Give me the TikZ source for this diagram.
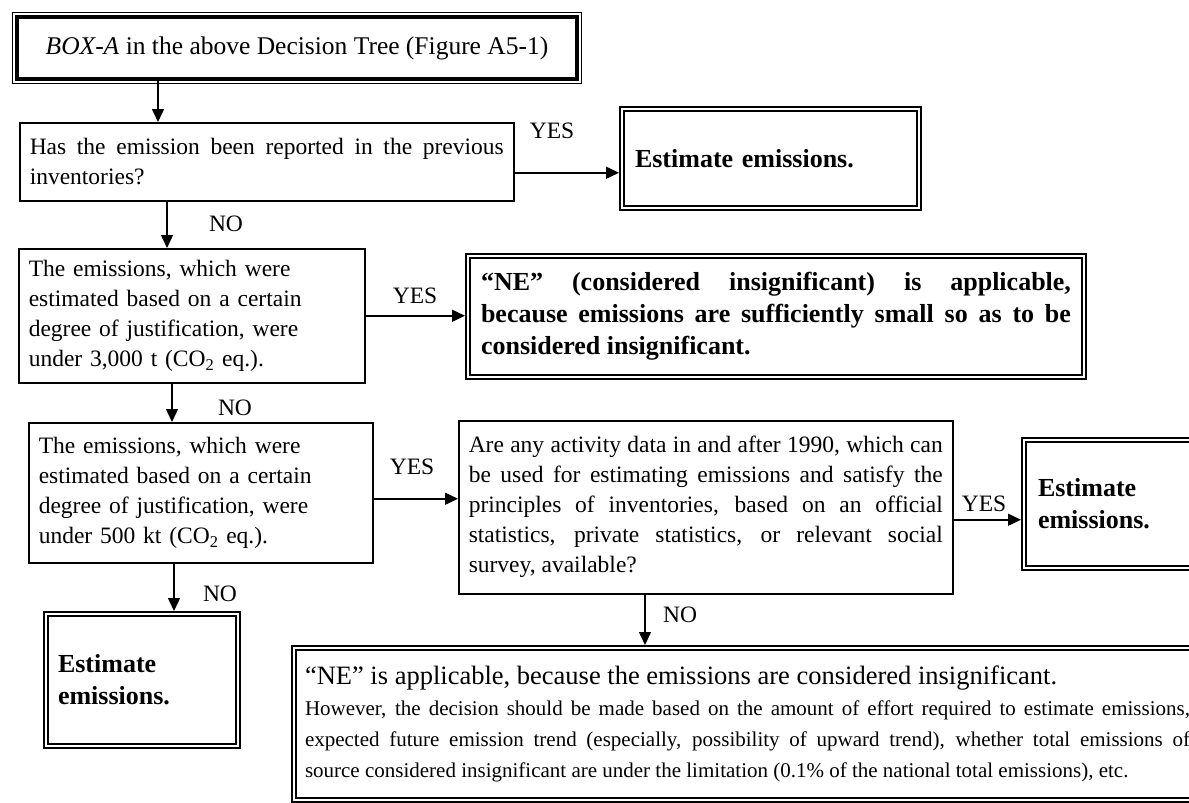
\documentclass[tikz,border=0pt]{standalone}
\usepackage{fontspec}
\setmainfont{Liberation Serif}
\usetikzlibrary{arrows.meta}

\tikzset{
  qbox/.style={draw, line width=1.5pt, inner xsep=10pt, inner ysep=0pt, align=left, font=\fontsize{23.5}{30}\selectfont},
  dbox/.style={draw, line width=1.8pt, double, double distance=2pt, outer sep=3pt, inner ysep=0pt, align=left, font=\bfseries\fontsize{26}{32}\selectfont},
  yn/.style={inner sep=0pt, font=\fontsize{23.5}{28}\selectfont},
  flow/.style={line width=1.5pt, -{Triangle[length=13pt, width=12pt]}}
}

\begin{document}
\begin{tikzpicture}[x=1pt, y=-1pt]
	\useasboundingbox (0,0) rectangle (1189,803);
	\clip (0,0) rectangle (1189,803);
	\node[draw, line width=4pt, anchor=north west, minimum width=560pt, minimum height=62pt, inner sep=0pt, font=\fontsize{25.5}{32}\selectfont] (boxa) at (15,15) {\textit{BOX-A} in the above Decision Tree (Figure A5-1)};
	\draw[line width=1.3pt] ([shift={(-2.5,-2.5)}]boxa.north west) rectangle ([shift={(2.5,2.5)}]boxa.south east);
	\node[qbox, anchor=north west, text width=474pt, minimum height=78pt, align=justify] (q1) at (19,122) {Has the emission been reported in the previous\linebreak inventories?};
	\node[yn] (yes1) at (552,131) {YES};
	\node[dbox, anchor=north west, text width=271pt, inner xsep=13pt, minimum height=99pt] (est1) at (619,106) {Estimate emissions.};
	\node[yn] (no1) at (226,224) {NO};
	\node[qbox, anchor=north west, text width=326pt, minimum height=134pt] (q2) at (18,248) {The emissions, which were\\ estimated based on a certain\\ degree of justification, were\\ under 3,000 t (CO\textsubscript{2} eq.).};
	\node[yn] (yes2) at (415,296) {YES};
	\node[dbox, anchor=north west, text width=590pt, inner xsep=13pt, minimum height=121pt, align=justify] (ne1) at (465,253) {“NE” (considered insignificant) is applicable,\linebreak because emissions are sufficiently small so as to be\linebreak considered insignificant.};
	\node[yn] (no2) at (235,408) {NO};
	\node[qbox, anchor=north west, text width=324pt, minimum height=140pt] (q3) at (28,422) {The emissions, which were\\ estimated based on a certain\\ degree of justification, were\\ under 500 kt (CO\textsubscript{2} eq.).};
	\node[yn] (yes3) at (412,467) {YES};
	\node[qbox, anchor=north west, text width=474pt, minimum height=173pt, align=justify] (q4) at (458,420) {Are any activity data in and after 1990, which can\linebreak be used for estimating emissions and satisfy the\linebreak principles of inventories, based on an official\linebreak statistics, private statistics, or relevant social\linebreak survey, available?};
	\node[yn] (yes4) at (984,504) {YES};
	\node[dbox, anchor=north west, text width=180pt, inner xsep=14pt, minimum height=128pt] (est2) at (1021,437) {Estimate\\ emissions.};
	\node[yn] (no3) at (220,594) {NO};
	\node[dbox, anchor=north west, text width=168pt, inner xsep=12pt, minimum height=132pt] (est3) at (43,611) {Estimate\\ emissions.};
	\node[yn] (no4) at (680,615) {NO};
	\node[dbox, anchor=north west, text width=885pt, inner xsep=11pt, minimum height=152pt, align=justify, font=\fontsize{21}{31}\selectfont] (ne2) at (291,645) {{\fontsize{26.5}{33}\selectfont “NE” is applicable, because the emissions are considered insignificant.\par}However, the decision should be made based on the amount of effort required to estimate emissions,\linebreak expected future emission trend (especially, possibility of upward trend), whether total emissions of\linebreak source considered insignificant are under the limitation (0.1\% of the national total emissions), etc.};
	\coordinate (t0) at ([xshift=143pt]boxa.south west);
	\coordinate (t1) at ([xshift=148pt]q1.south west);
	\coordinate (t2) at ([xshift=154pt]q2.south west);
	\coordinate (t3) at ([xshift=146pt]q3.south west);
	\coordinate (t4) at ([xshift=187pt]q4.south west);
	\coordinate (r1) at ([yshift=-11pt]q1.east);
	\coordinate (r3) at ([yshift=-6pt]q3.east);
	\coordinate (r4) at ([yshift=-12.5pt]q4.east);
	\draw[flow] (t0) -- (t0 |- q1.north);
	\draw[flow] (t1) -- (t1 |- q2.north);
	\draw[flow] (t2) -- (t2 |- q3.north);
	\draw[flow] (t3) -- (t3 |- est3.north);
	\draw[flow] (t4) -- (t4 |- ne2.north);
	\draw[flow] (r1) -- (r1 -| est1.west);
	\draw[flow] (q2.east) -- (q2.east -| ne1.west);
	\draw[flow] (r3) -- (r3 -| q4.west);
	\draw[flow] (r4) -- (r4 -| est2.west);
\end{tikzpicture}
\end{document}
